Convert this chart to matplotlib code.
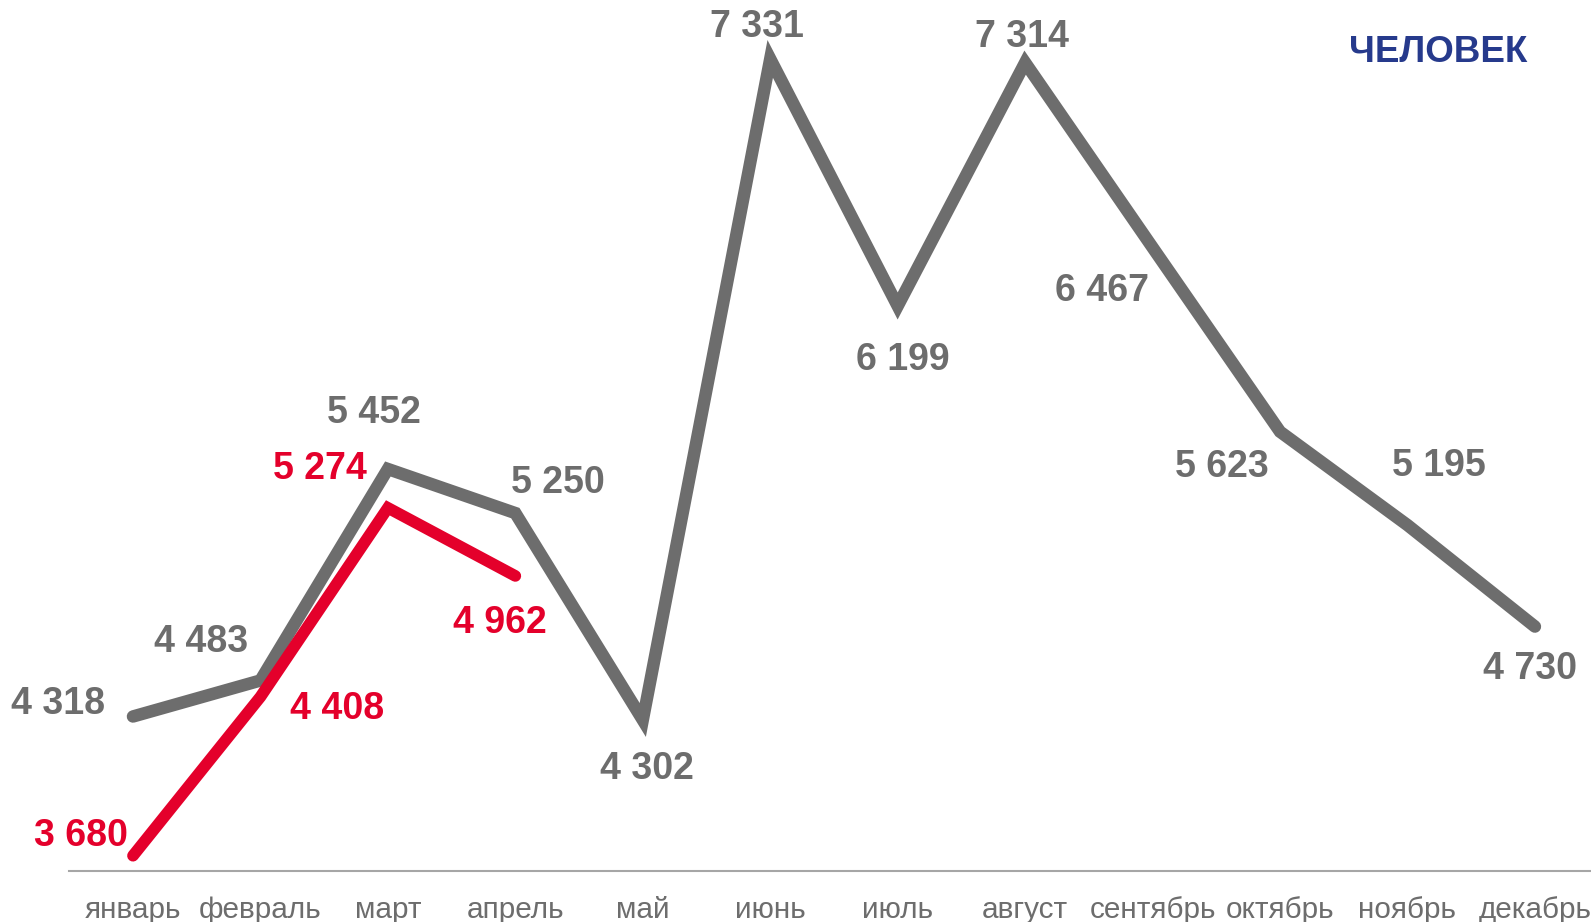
import numpy as np
import matplotlib.pyplot as plt

plt.rcParams['font.family'] = ['Liberation Sans', 'DejaVu Sans']

months = ['январь', 'февраль', 'март', 'апрель', 'май', 'июнь', 'июль',
          'август', 'сентябрь', 'октябрь', 'ноябрь', 'декабрь']
prev_year = [4318, 4483, 5452, 5250, 4302, 7331, 6199, 7314, 6467, 5623, 5195, 4730]
cur_year = [3680, 4408, 5274, 4962]

# label offsets in pixels (dx, dy)
prev_off = [(-75, 12), (-59, 38), (-14, 56), (43, 30), (4, -49), (-13, 32),
            (5, -54), (-3, 26), (-51, -44), (-58, -35), (31, 59), (-5, -42)]
cur_off = [(-52, 20), (77, -12), (-68, 39), (-15, -47)]

gray = '#6d6d6d'
red = '#e4002b'
blue = '#263a8c'

fig = plt.figure(figsize=(15.91, 9.22), dpi=100)
ax = fig.add_axes([69 / 1591, 51 / 922, 1 - 69 / 1591, 1 - 51 / 922])

x = np.arange(len(months))
ax.plot(x, prev_year, color=gray, lw=9, solid_capstyle='round', solid_joinstyle='miter')
ax.plot(x[:len(cur_year)], cur_year, color=red, lw=8.4, solid_capstyle='round',
        solid_joinstyle='miter')

def fmt(v):
    return f'{v:,}'.replace(',', ' ')

for i, v in enumerate(prev_year):
    ax.annotate(fmt(v), (x[i], v), xytext=prev_off[i], textcoords='offset pixels',
                ha='center', va='center', fontsize=27, fontweight='bold', color=gray)
for i, v in enumerate(cur_year):
    ax.annotate(fmt(v), (x[i], v), xytext=cur_off[i], textcoords='offset pixels',
                ha='center', va='center', fontsize=27, fontweight='bold', color=red)

ax.set_xlim(-0.502, 11.44)
ax.set_ylim(3610, 7601)
ax.set_xticks(x)
ax.set_xticklabels(months, fontsize=21.4, color=gray)
ax.tick_params(axis='x', length=0, pad=18)
ax.set_yticks([])
for s in ['top', 'right', 'left']:
    ax.spines[s].set_visible(False)
ax.spines['bottom'].set_color('#a6a6a6')
ax.spines['bottom'].set_linewidth(1.5)

fig.text(1438 / 1591, 1 - 52 / 922, 'ЧЕЛОВЕК', ha='center', va='center',
         fontsize=26.5, fontweight='bold', color=blue)

fig.savefig('out.png', dpi=100)
